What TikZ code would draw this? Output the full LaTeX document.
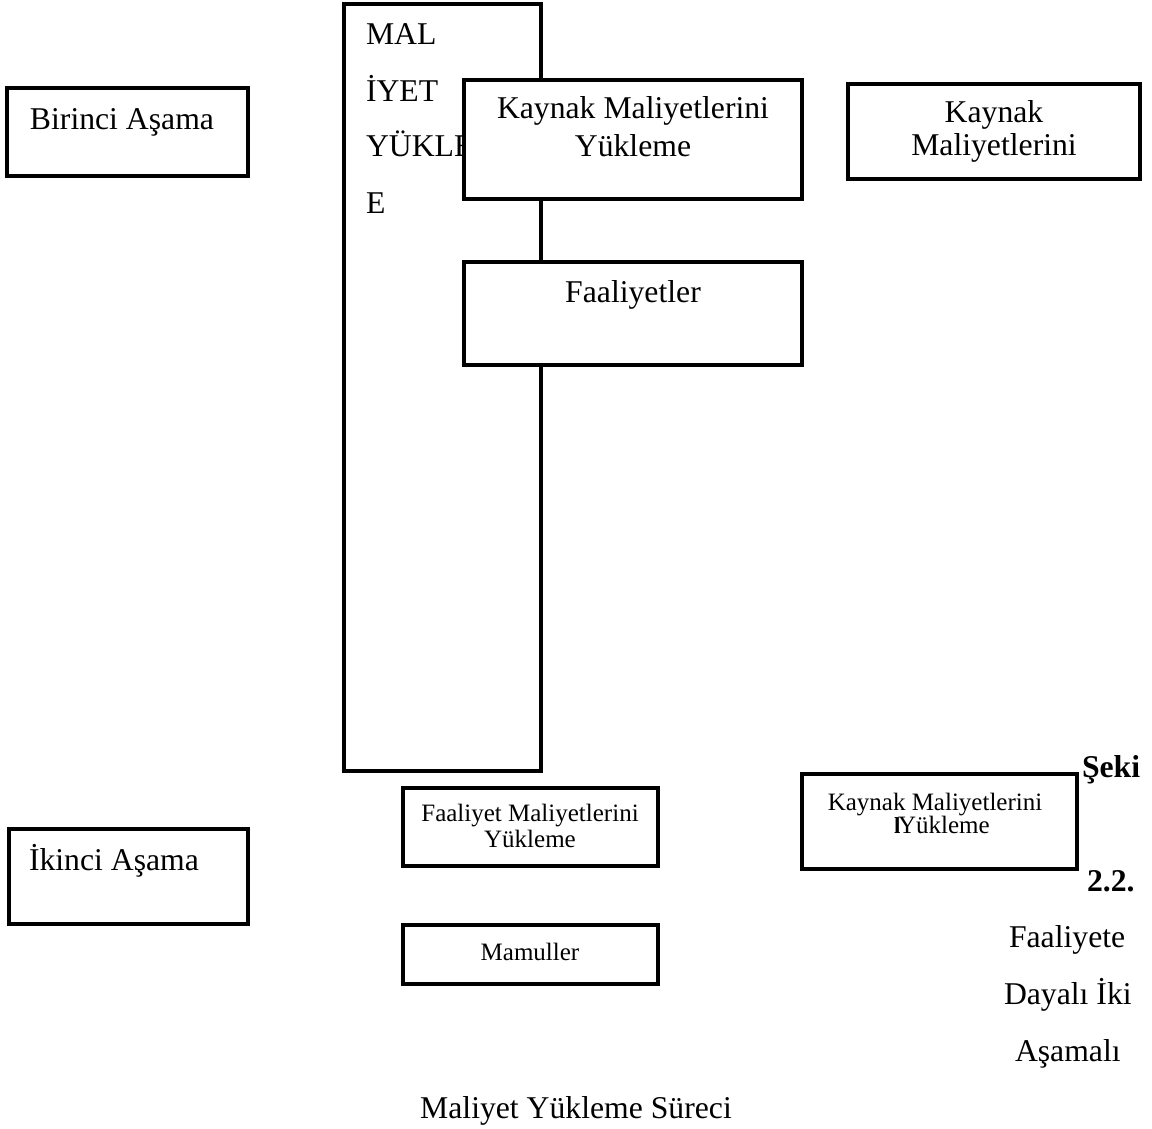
\documentclass[tikz,border=0pt]{standalone}
\usepackage{fontspec}
\setmainfont{Liberation Serif}
\newcommand\bigsz{\fontsize{31.7}{38}\selectfont}
\newcommand\smallsz{\fontsize{25}{30}\selectfont}
\begin{document}
\begin{tikzpicture}[x=1pt,y=-1pt,
  box/.style={draw=black, fill=white, line width=3.3pt, inner sep=0pt, outer sep=0pt, anchor=north west},
  lbl/.style={inner sep=0pt, outer sep=0pt, anchor=base west, font=\bigsz},
  clbl/.style={inner sep=0pt, outer sep=0pt, anchor=base, font=\bigsz},
  slbl/.style={inner sep=0pt, outer sep=0pt, anchor=base, font=\smallsz},
  bl/.style={inner sep=0pt, outer sep=0pt, anchor=base west, font=\bigsz\bfseries}]
\useasboundingbox (0,0) rectangle (1152,1129);
\fill[white] (0,0) rectangle (1152,1129);

% left stage boxes
\node[box, minimum width=241pt, minimum height=88pt] (birinci) at (7,88) {};
\node[lbl] (birincit) at (30,130) {Birinci Aşama};
\node[box, minimum width=239pt, minimum height=95pt] (ikinci) at (9,829) {};
\node[lbl] (ikincit) at (29,870) {İkinci Aşama};

% tall box
\node[box, minimum width=197pt, minimum height=767pt] (tall) at (344,4) {};
\node[lbl] (t1) at (366,45) {MAL};
\node[lbl] (t2) at (366,102) {İYET};
\node[lbl] (t3) at (366,157) {YÜKLE};
\node[lbl] (t4) at (366,214) {E};

% boxes over the tall box
\node[box, minimum width=338pt, minimum height=119pt] (kyuk) at (464,80) {};
\node[clbl] (kyuk1) at (633,119) {Kaynak Maliyetlerini};
\node[clbl] (kyuk2) at (633,157) {Yükleme};
\node[box, minimum width=338pt, minimum height=103pt] (faal) at (464,262) {};
\node[clbl] (faalt) at (633,302) {Faaliyetler};

% right top box
\node[box, minimum width=292pt, minimum height=95pt] (kmal) at (848,84) {};
\node[clbl] (kmal1) at (994,123) {Kaynak};
\node[clbl] (kmal2) at (994,156) {Maliyetlerini};

% second stage boxes
\node[box, minimum width=255pt, minimum height=78pt] (fmy) at (403,788) {};
\node[slbl] (fmy1) at (530,821) {Faaliyet Maliyetlerini};
\node[slbl] (fmy2) at (530,847) {Yükleme};
\node[box, minimum width=255pt, minimum height=59pt] (mam) at (403,925) {};
\node[slbl] (mamt) at (530,960) {Mamuller};
\node[box, minimum width=275pt, minimum height=95pt] (kmy) at (802,774) {};
\node[slbl] (kmy1) at (935,810) {Kaynak Maliyetlerini};
\node[inner sep=0pt, outer sep=0pt, anchor=base west, font=\smallsz] (kmy2) at (898,833) {Yükleme};
\node[inner sep=0pt, outer sep=0pt, anchor=base west, font=\fontsize{23}{28}\selectfont\bfseries] (ell) at (894,833) {l};

% caption
\node[bl] (sek) at (1082,777) {Şeki};
\node[bl] (num) at (1087,891) {2.2.};
\node[lbl] (c1) at (1009,947) {Faaliyete};
\node[lbl] (c2) at (1004,1004) {Dayalı İki};
\node[lbl] (c3) at (1015,1061) {Aşamalı};
\node[clbl] (c4) at (576,1118) {Maliyet Yükleme Süreci};
\end{tikzpicture}
\end{document}
